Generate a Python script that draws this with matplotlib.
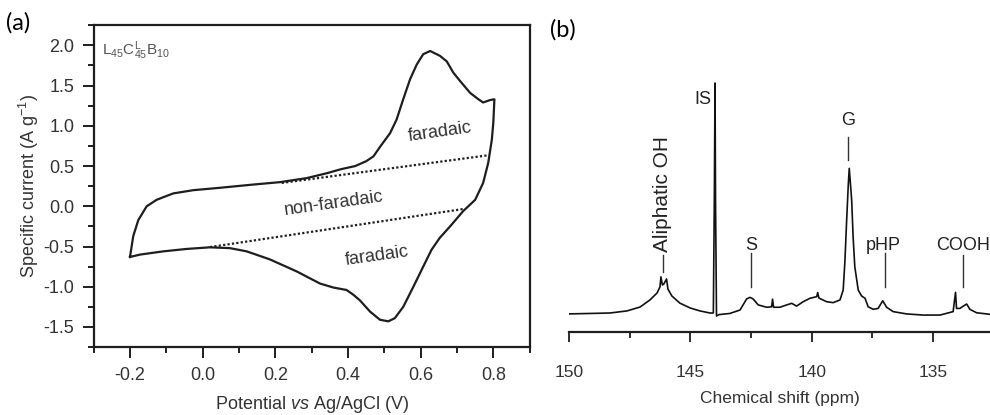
import matplotlib
matplotlib.use("Agg")
import matplotlib.pyplot as plt
from matplotlib.ticker import MultipleLocator

plt.rcParams['font.family'] = ['Liberation Sans', 'DejaVu Sans']
plt.rcParams['mathtext.fontset'] = 'custom'
plt.rcParams['mathtext.rm'] = 'Liberation Sans'
plt.rcParams['mathtext.it'] = 'Liberation Sans:italic'

# (a) cyclic voltammogram, L45C45B10
e_fwd = [-0.200, -0.191, -0.177, -0.154, -0.127, -0.081, -0.026, 0.048, 0.139, 0.213,
         0.286, 0.341, 0.380, 0.420, 0.450, 0.470, 0.490, 0.516, 0.534, 0.552,
         0.571, 0.589, 0.607, 0.626, 0.653, 0.672, 0.690, 0.708, 0.736, 0.759,
         0.772, 0.791, 0.803]
i_fwd = [-0.63, -0.37, -0.17, 0.00, 0.08, 0.16, 0.20, 0.23, 0.27, 0.30,
         0.35, 0.41, 0.46, 0.50, 0.56, 0.62, 0.75, 0.91, 1.08, 1.33,
         1.58, 1.76, 1.89, 1.93, 1.87, 1.80, 1.66, 1.56, 1.41, 1.33,
         1.29, 1.32, 1.33]
e_rev = [0.803, 0.800, 0.796, 0.786, 0.772, 0.750, 0.717, 0.681, 0.653, 0.630,
         0.607, 0.580, 0.552, 0.529, 0.511, 0.488, 0.461, 0.433, 0.415, 0.396,
         0.360, 0.323, 0.259, 0.185, 0.121, 0.075, 0.020, -0.044, -0.108, -0.172,
         -0.200]
i_rev = [1.33, 1.04, 0.83, 0.54, 0.29, 0.08, -0.06, -0.25, -0.39, -0.54,
         -0.75, -1.00, -1.25, -1.39, -1.43, -1.41, -1.31, -1.17, -1.10, -1.04,
         -1.01, -0.96, -0.81, -0.66, -0.56, -0.52, -0.51, -0.53, -0.56, -0.60,
         -0.63]
# dotted baselines separating faradaic / non-faradaic parts
base_up_e = [0.2175, 0.786]
base_up_i = [0.29, 0.634]
base_lo_e = [0.020, 0.717]
base_lo_i = [-0.507, -0.034]

# (b) 31P NMR spectrum (intensity, IS peak = 100)
ppm = [150.04, 149.13, 148.31, 147.61, 147.07, 146.66, 146.37, 146.25, 146.21, 146.15,
       146.09, 145.98, 145.92, 145.76, 145.43, 145.01, 144.60, 144.19, 144.05, 144.01,
       143.98, 143.96, 143.92, 143.82, 143.37, 142.95, 142.68, 142.54, 142.41, 142.20,
       141.85, 141.65, 141.61, 141.57, 141.31, 141.03, 140.82, 140.62, 140.35, 140.07,
       139.79, 139.75, 139.70, 139.38, 139.11, 138.83, 138.70, 138.63, 138.56, 138.49,
       138.45, 138.35, 138.29, 138.22, 138.08, 137.94, 137.80, 137.67, 137.46, 137.26,
       137.07, 136.91, 136.64, 136.09, 135.40, 134.71, 134.17, 134.07, 134.03, 133.89,
       133.75, 133.61, 133.48, 133.20, 132.79, 132.65]
intensity = [-0.4, -0.2, 0.0, 0.9, 2.6, 5.7, 8.7, 11.3, 15.7, 12.2,
             12.6, 14.8, 10.4, 7.4, 4.3, 2.2, 0.9, 0.0, 0.0, 49.1,
             100.0, 49.1, -1.3, -0.7, -0.2, 1.3, 6.1, 6.8, 6.1, 3.5,
             2.5, 2.7, 6.0, 2.5, 2.5, 3.5, 4.2, 3.0, 4.9, 6.4,
             7.1, 8.9, 6.5, 4.9, 4.5, 5.7, 10.0, 22.2, 39.6, 55.7,
             62.9, 49.1, 33.0, 20.0, 10.0, 7.4, 6.4, 2.7, 1.6, 2.0,
             5.3, 2.5, 0.6, -0.4, -0.9, -0.9, 0.6, 9.0, 2.0, 2.0,
             3.0, 3.9, 1.6, 0.1, -0.4, -0.6]

fig = plt.figure(figsize=(9.9, 4.15), dpi=100)

# ---------------- panel (a) ----------------
ax = fig.add_axes([0.0946, 0.1636, 0.4404, 0.7756])
ink = '#1e1e1e'
txt = '#333333'
ax.plot(e_fwd + e_rev[1:], i_fwd + i_rev[1:], color=ink, lw=1.6,
        solid_joinstyle='round')
ax.plot(base_up_e, base_up_i, color=ink, lw=1.6, ls=(0, (1, 1)))
ax.plot(base_lo_e, base_lo_i, color=ink, lw=1.6, ls=(0, (1, 1)))

ax.set_xlim(-0.3, 0.9)
ax.set_ylim(-1.75, 2.25)
ax.xaxis.set_major_locator(MultipleLocator(0.2))
ax.xaxis.set_minor_locator(MultipleLocator(0.1))
ax.yaxis.set_major_locator(MultipleLocator(0.5))
ax.yaxis.set_minor_locator(MultipleLocator(0.25))
ax.set_xticks([-0.2, 0.0, 0.2, 0.4, 0.6, 0.8])
ax.set_xticklabels(['-0.2', '0.0', '0.2', '0.4', '0.6', '0.8'])
ax.set_yticks([-1.5, -1.0, -0.5, 0.0, 0.5, 1.0, 1.5, 2.0])
ax.set_yticklabels(['-1.5', '-1.0', '-0.5', '0.0', '0.5', '1.0', '1.5', '2.0'])
ax.tick_params(which='both', direction='out', width=1.4, color=ink,
               labelsize=13, labelcolor=txt, pad=6)
ax.tick_params(which='major', length=8)
ax.tick_params(which='minor', length=4.5)
for s in ax.spines.values():
    s.set_linewidth(1.6)
    s.set_color(ink)

ax.set_xlabel(r'Potential $\mathit{vs}$ Ag/AgCl (V)', fontsize=13, color=txt)
ax.set_ylabel(r'Specific current (A g$^{\mathregular{-1}}$)', fontsize=13, color=txt)
ax.xaxis.set_label_coords(0.5, -0.147)
ax.yaxis.set_label_coords(-0.12, 0.5)

ax.text(0.019, 0.955, r'$\mathregular{L_{45}C^{L}_{45}B_{10}}$', transform=ax.transAxes,
        fontsize=11, color='#555555', ha='left', va='top')
ax.text(0.653, 0.92, 'faradaic', fontsize=13, color=txt, rotation=8,
        ha='center', va='center')
ax.text(0.360, 0.03, 'non-faradaic', fontsize=13, color=txt, rotation=8,
        ha='center', va='center')
ax.text(0.479, -0.62, 'faradaic', fontsize=13, color=txt, rotation=8,
        ha='center', va='center')

# ---------------- panel (b) ----------------
bx = fig.add_axes([0.5747, 0.2, 0.4253, 0.6313])
bx.plot(ppm, intensity, color='#111111', lw=1.2)
bx.set_xlim(150, 132.65)
bx.set_ylim(-8.26, 105.65)
for side in ['left', 'right', 'top']:
    bx.spines[side].set_visible(False)
bx.spines['bottom'].set_linewidth(1.6)
bx.spines['bottom'].set_color(ink)
bx.set_yticks([])
bx.set_xticks([150, 145, 140, 135])
bx.set_xticklabels(['150', '145', '140', '135'])
bx.xaxis.set_minor_locator(MultipleLocator(2.5))
bx.tick_params(which='both', direction='out', width=1.3, color=ink,
               labelsize=12.5, labelcolor=txt, pad=17)
bx.tick_params(which='major', length=7)
bx.tick_params(which='minor', length=4.5)
bx.set_xlabel('Chemical shift (ppm)', fontsize=12.5, color=txt)
bx.xaxis.set_label_coords(0.5, -0.225)

lab = dict(fontsize=13, color='#222222')
line = dict(color='#333333', lw=1.0)
# Aliphatic OH
bx.plot([146.13, 146.13], [17.8, 25.2], **line)
bx.text(146.13, 26.5, 'Aliphatic OH', rotation=90, ha='center', va='bottom',
        fontsize=15, color='#222222')
# IS
bx.text(144.12, 93, 'IS', ha='right', va='center', **lab)
# S
bx.plot([142.50, 142.50], [11.3, 26.1], **line)
bx.text(142.50, 27.6, 'S', ha='center', va='baseline', **lab)
# G
bx.plot([138.50, 138.50], [66.5, 76.5], **line)
bx.text(138.50, 81.7, 'G', ha='center', va='baseline', **lab)
# pHP
bx.plot([136.98, 136.98], [11.3, 26.1], **line)
bx.text(137.06, 27.6, 'pHP', ha='center', va='baseline', **lab)
# COOH
bx.plot([133.77, 133.77], [11.3, 25.2], **line)
bx.text(133.77, 27.6, 'COOH', ha='center', va='baseline', **lab)

fig.text(0.006, 0.97, '(a)', fontsize=17, family=['Lato', 'DejaVu Sans'], va='top', ha='left')
fig.text(0.5556, 0.953, '(b)', fontsize=17, family=['Lato', 'DejaVu Sans'], va='top', ha='left')

fig.savefig('out.png', dpi=100)
